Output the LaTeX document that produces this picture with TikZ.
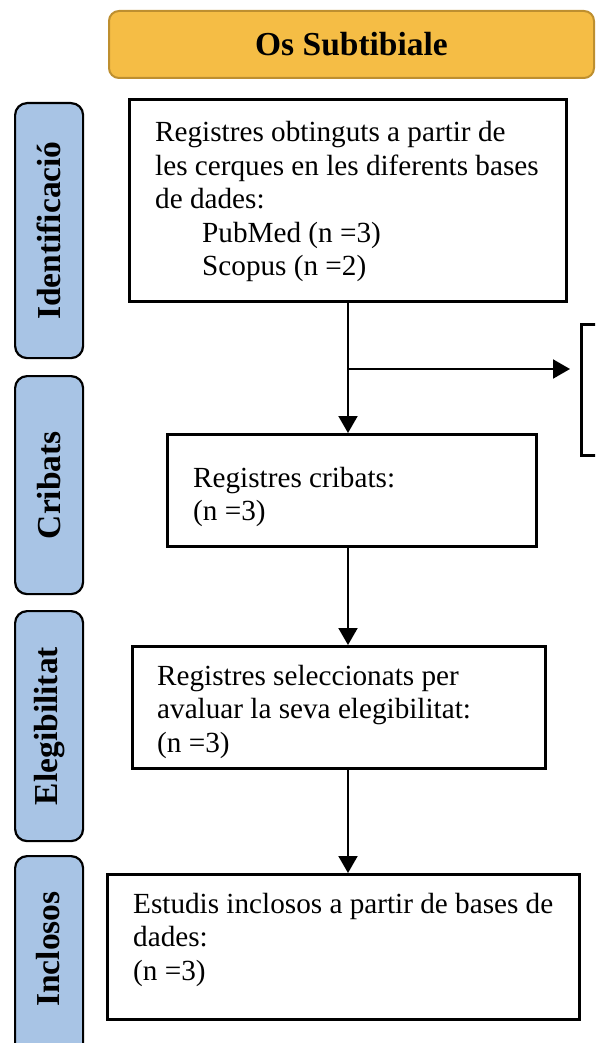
\documentclass[tikz,border=0pt]{standalone}
\usepackage{fontspec}
\setmainfont{Liberation Serif}
\usetikzlibrary{arrows.meta}

\definecolor{phaseblue}{HTML}{A8C4E5}
\definecolor{titlegold}{HTML}{F5BD45}
\definecolor{titleedge}{HTML}{BE8F2F}

% body text: Times-like, 29.2pt on 33.5pt lines
\newcommand{\bodyfont}{\fontsize{29.2}{33.5}\selectfont}
\newcommand{\headfont}{\fontsize{33.5}{38}\selectfont\bfseries}
\newcommand{\textlines}[1]{\begin{tabular}[t]{@{}l@{}}#1\end{tabular}}

\begin{document}
\begin{tikzpicture}[x=1pt, y=-1pt,
  phase/.style={draw=black, line width=2.2pt, fill=phaseblue, rounded corners=12pt,
    anchor=north west, inner sep=0pt},
  phaselabel/.style={rotate=90, font=\headfont, inner sep=0pt},
  title/.style={draw=titleedge, line width=2pt, fill=titlegold, rounded corners=10pt,
    anchor=north west, font=\headfont, inner sep=0pt},
  stepbox/.style={draw=black, line width=3pt, anchor=north west, inner sep=0pt},
  boxtext/.style={anchor=base west, inner sep=0pt, font=\bodyfont},
  arr/.style={line width=2pt, -{Triangle[width=19pt,length=17pt]}}
]
\useasboundingbox (0,0) rectangle (595,1043);
\clip (0,0) rectangle (595,1043);

% title banner
\node[title, minimum width=485pt, minimum height=67pt] (head) at (108,10) {Os Subtibiale};

% phase labels on the left
\node[phase, minimum width=68pt, minimum height=255pt] (pid) at (14,102) {};
\node[phaselabel] (lid) at (pid.center) {Identificació};
\node[phase, minimum width=68pt, minimum height=218pt] (pcr) at (14,375) {};
\node[phaselabel] (lcr) at (pcr.center) {Cribats};
\node[phase, minimum width=68pt, minimum height=230pt] (pel) at (14,610) {};
\node[phaselabel] (lel) at (pel.center) {Elegibilitat};
\node[phase, minimum width=68pt, minimum height=220pt] (pin) at (14,855) {};
\node[phaselabel] (lin) at (14+34,855+94) {Inclosos};

% flow boxes
\node[stepbox, minimum width=437pt, minimum height=202pt] (b1) at (128,98) {};
\node[boxtext] (t1) at (155,142) {\textlines{Registres obtinguts a partir de\\
  les cerques en les diferents bases\\ de dades:\\
  \hspace*{47pt}PubMed (n =3)\\ \hspace*{47pt}Scopus (n =2)}};

\node[stepbox, minimum width=100pt, minimum height=131pt] (b5) at (580,323) {};

\node[stepbox, minimum width=369pt, minimum height=112pt] (b2) at (166,433) {};
\node[boxtext] (t2) at (193,487) {\textlines{Registres cribats:\\ (n =3)}};

\node[stepbox, minimum width=413pt, minimum height=122pt] (b3) at (131,645) {};
\node[boxtext] (t3) at (157,685) {\textlines{Registres seleccionats per\\
  avaluar la seva elegibilitat:\\ (n =3)}};

\node[stepbox, minimum width=472pt, minimum height=145pt] (b4) at (106,873) {};
\node[boxtext] (t4) at (133,913) {\textlines{Estudis inclosos a partir de bases de\\
  dades:\\ (n =3)}};

% connectors
\coordinate (br) at (b1.south |- 0,369);
\draw[arr] (b1.south) -- (b1.south |- b2.north);
\draw[arr, shorten >=10pt] (br) -- (br -| b5.west);
\draw[arr] (b1.south |- b2.south) -- (b1.south |- b3.north);
\draw[arr] (b1.south |- b3.south) -- (b1.south |- b4.north);
\end{tikzpicture}
\end{document}
